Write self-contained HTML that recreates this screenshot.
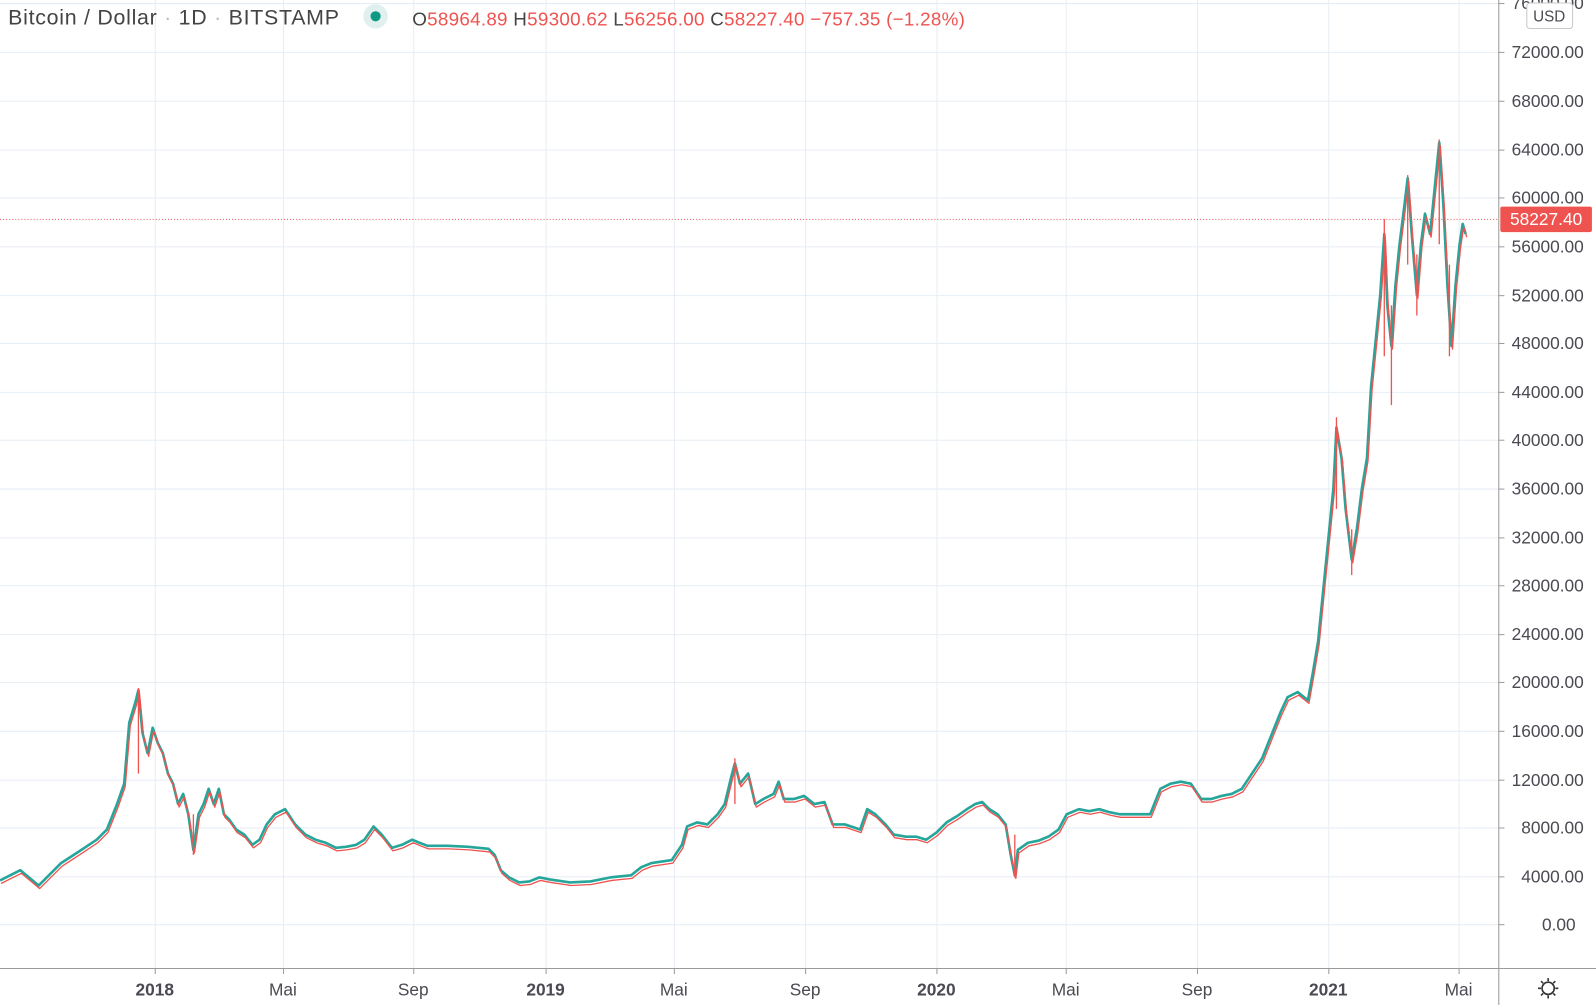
<!DOCTYPE html>
<html><head><meta charset="utf-8"><style>
body{margin:0;background:#fff;width:1596px;height:1005px;overflow:hidden;font-family:"Liberation Sans",sans-serif}
svg{display:block}
</style></head><body>
<svg width="1596" height="1005" viewBox="0 0 1568 987.4" preserveAspectRatio="none" xmlns="http://www.w3.org/2000/svg" font-family="Liberation Sans, sans-serif">
<rect width="1568" height="988" fill="#fff"/>
<g stroke="#e6eef4" stroke-width="1">
<line x1="0" y1="3.5" x2="1472" y2="3.5"/>
<line x1="0" y1="51.5" x2="1472" y2="51.5"/><line x1="0" y1="99.5" x2="1472" y2="99.5"/>
<line x1="0" y1="147.5" x2="1472" y2="147.5"/><line x1="0" y1="194.5" x2="1472" y2="194.5"/>
<line x1="0" y1="242.5" x2="1472" y2="242.5"/><line x1="0" y1="290.5" x2="1472" y2="290.5"/>
<line x1="0" y1="337.5" x2="1472" y2="337.5"/><line x1="0" y1="385.5" x2="1472" y2="385.5"/>
<line x1="0" y1="432.5" x2="1472" y2="432.5"/><line x1="0" y1="480.5" x2="1472" y2="480.5"/>
<line x1="0" y1="528.5" x2="1472" y2="528.5"/><line x1="0" y1="575.5" x2="1472" y2="575.5"/>
<line x1="0" y1="623.5" x2="1472" y2="623.5"/><line x1="0" y1="670.5" x2="1472" y2="670.5"/>
<line x1="0" y1="718.5" x2="1472" y2="718.5"/><line x1="0" y1="766.5" x2="1472" y2="766.5"/>
<line x1="0" y1="813.5" x2="1472" y2="813.5"/><line x1="0" y1="861.5" x2="1472" y2="861.5"/>
<line x1="0" y1="908.5" x2="1472" y2="908.5"/>
<line x1="152.5" y1="0" x2="152.5" y2="951"/><line x1="278.5" y1="0" x2="278.5" y2="951"/>
<line x1="406.5" y1="0" x2="406.5" y2="951"/><line x1="536.5" y1="0" x2="536.5" y2="951"/>
<line x1="662.5" y1="0" x2="662.5" y2="951"/><line x1="791.5" y1="0" x2="791.5" y2="951"/>
<line x1="920.5" y1="0" x2="920.5" y2="951"/><line x1="1047.5" y1="0" x2="1047.5" y2="951"/>
<line x1="1176.5" y1="0" x2="1176.5" y2="951"/><line x1="1305.5" y1="0" x2="1305.5" y2="951"/>
<line x1="1433.5" y1="0" x2="1433.5" y2="951"/>
</g>
<line x1="0" y1="215.5" x2="1472" y2="215.5" stroke="#ef5350" stroke-dasharray="1,2"/>
<g fill="none" stroke-linejoin="round">
<polyline stroke="#26a69a" stroke-width="2.6" points="0,865 20,855 38,870 60,848 80,835 95,825 105,815 115,790 122,770 127,710 133,690 136,678 140,720 145,740 150,715 155,730 160,740 165,760 170,770 175,790 180,780 185,800 190,835 195,800 200,790 205,775 210,790 215,775 220,800 225,805 232,815 240,820 248,830 255,825 262,810 270,800 280,795 290,810 300,820 310,825 320,828 330,833 340,832 350,830 358,825 367,812 375,820 385,833 395,830 405,825 412,828 420,831 440,831 460,832 480,834 486,840 492,855 500,862 510,867 520,866 530,862 540,864 560,867 580,866 600,862 620,860 630,852 640,848 660,845 670,830 675,812 685,808 695,810 705,800 712,790 718,765 722,750 727,770 735,760 742,790 750,785 760,780 765,768 770,785 780,785 790,782 800,790 810,788 818,810 830,810 845,815 852,795 860,800 870,810 878,820 890,822 900,822 910,825 920,818 930,808 940,802 950,795 958,790 965,788 972,795 980,800 988,810 993,840 997,860 1000,835 1010,828 1020,826 1030,822 1040,815 1048,800 1060,795 1070,797 1080,795 1090,798 1100,800 1110,800 1120,800 1130,800 1140,775 1150,770 1160,768 1170,770 1180,785 1190,785 1200,782 1210,780 1220,775 1230,760 1240,745 1250,720 1258,700 1265,685 1275,680 1285,688 1290,660 1295,630 1300,580 1305,530 1310,480 1313,420 1318,450 1322,500 1328,550 1333,520 1338,480 1343,450 1347,380 1352,330 1356,290 1360,230 1363,300 1367,340 1371,280 1375,240 1380,200 1383,175 1387,230 1392,290 1396,240 1400,210 1405,230 1410,180 1414,140 1418,200 1422,280 1426,340 1430,280 1434,240 1437,220 1440,230"/>
<polyline stroke="#ef5350" stroke-width="1.3" transform="translate(1,3)" points="0,865 20,855 38,870 60,848 80,835 95,825 105,815 115,790 122,770 127,710 133,690 136,678 140,720 145,740 150,715 155,730 160,740 165,760 170,770 175,790 180,780 185,800 190,835 195,800 200,790 205,775 210,790 215,775 220,800 225,805 232,815 240,820 248,830 255,825 262,810 270,800 280,795 290,810 300,820 310,825 320,828 330,833 340,832 350,830 358,825 367,812 375,820 385,833 395,830 405,825 412,828 420,831 440,831 460,832 480,834 486,840 492,855 500,862 510,867 520,866 530,862 540,864 560,867 580,866 600,862 620,860 630,852 640,848 660,845 670,830 675,812 685,808 695,810 705,800 712,790 718,765 722,750 727,770 735,760 742,790 750,785 760,780 765,768 770,785 780,785 790,782 800,790 810,788 818,810 830,810 845,815 852,795 860,800 870,810 878,820 890,822 900,822 910,825 920,818 930,808 940,802 950,795 958,790 965,788 972,795 980,800 988,810 993,840 997,860 1000,835 1010,828 1020,826 1030,822 1040,815 1048,800 1060,795 1070,797 1080,795 1090,798 1100,800 1110,800 1120,800 1130,800 1140,775 1150,770 1160,768 1170,770 1180,785 1190,785 1200,782 1210,780 1220,775 1230,760 1240,745 1250,720 1258,700 1265,685 1275,680 1285,688 1290,660 1295,630 1300,580 1305,530 1310,480 1313,420 1318,450 1322,500 1328,550 1333,520 1338,480 1343,450 1347,380 1352,330 1356,290 1360,230 1363,300 1367,340 1371,280 1375,240 1380,200 1383,175 1387,230 1392,290 1396,240 1400,210 1405,230 1410,180 1414,140 1418,200 1422,280 1426,340 1430,280 1434,240 1437,220 1440,230"/>
</g>
<g stroke="#ef5350" stroke-width="1.3">
<line x1="136" y1="676" x2="136" y2="760"/><line x1="190" y1="800" x2="190" y2="840"/>
<line x1="1313" y1="410" x2="1313" y2="500"/><line x1="1328" y1="520" x2="1328" y2="565"/>
<line x1="1360" y1="215" x2="1360" y2="350"/><line x1="1367" y1="300" x2="1367" y2="398"/>
<line x1="1383" y1="172" x2="1383" y2="260"/><line x1="1392" y1="250" x2="1392" y2="310"/>
<line x1="1414" y1="137" x2="1414" y2="240"/><line x1="1424" y1="260" x2="1424" y2="350"/>
<line x1="997" y1="820" x2="997" y2="862"/><line x1="722" y1="745" x2="722" y2="790"/>
</g>
<rect x="1472" y="0" width="124" height="1005" fill="#fff"/>
<rect x="0" y="952" width="1472" height="53" fill="#fff"/>
<line x1="1472.5" y1="0" x2="1472.5" y2="1005" stroke="#9a9a9a"/>
<line x1="0" y1="951.5" x2="1596" y2="951.5" stroke="#9a9a9a"/>
<g stroke="#9a9a9a">
<line x1="1472" y1="3.5" x2="1478" y2="3.5"/><line x1="1472" y1="51.5" x2="1478" y2="51.5"/><line x1="1472" y1="99.5" x2="1478" y2="99.5"/><line x1="1472" y1="147.5" x2="1478" y2="147.5"/><line x1="1472" y1="194.5" x2="1478" y2="194.5"/><line x1="1472" y1="242.5" x2="1478" y2="242.5"/><line x1="1472" y1="290.5" x2="1478" y2="290.5"/><line x1="1472" y1="337.5" x2="1478" y2="337.5"/><line x1="1472" y1="385.5" x2="1478" y2="385.5"/><line x1="1472" y1="432.5" x2="1478" y2="432.5"/><line x1="1472" y1="480.5" x2="1478" y2="480.5"/><line x1="1472" y1="528.5" x2="1478" y2="528.5"/><line x1="1472" y1="575.5" x2="1478" y2="575.5"/><line x1="1472" y1="623.5" x2="1478" y2="623.5"/><line x1="1472" y1="670.5" x2="1478" y2="670.5"/><line x1="1472" y1="718.5" x2="1478" y2="718.5"/><line x1="1472" y1="766.5" x2="1478" y2="766.5"/><line x1="1472" y1="813.5" x2="1478" y2="813.5"/><line x1="1472" y1="861.5" x2="1478" y2="861.5"/><line x1="1472" y1="908.5" x2="1478" y2="908.5"/>
<line x1="152.5" y1="951" x2="152.5" y2="957"/><line x1="278.5" y1="951" x2="278.5" y2="957"/><line x1="406.5" y1="951" x2="406.5" y2="957"/><line x1="536.5" y1="951" x2="536.5" y2="957"/><line x1="662.5" y1="951" x2="662.5" y2="957"/><line x1="791.5" y1="951" x2="791.5" y2="957"/><line x1="920.5" y1="951" x2="920.5" y2="957"/><line x1="1047.5" y1="951" x2="1047.5" y2="957"/><line x1="1176.5" y1="951" x2="1176.5" y2="957"/><line x1="1305.5" y1="951" x2="1305.5" y2="957"/><line x1="1433.5" y1="951" x2="1433.5" y2="957"/>
</g>
<g font-size="17" fill="#4a4a52" text-anchor="end">
<text x="1556" y="9">76000.00</text>
<text x="1556" y="57">72000.00</text><text x="1556" y="105">68000.00</text><text x="1556" y="153">64000.00</text><text x="1556" y="200">60000.00</text><text x="1556" y="248">56000.00</text><text x="1556" y="296">52000.00</text><text x="1556" y="343">48000.00</text><text x="1556" y="391">44000.00</text><text x="1556" y="438">40000.00</text><text x="1556" y="486">36000.00</text><text x="1556" y="534">32000.00</text><text x="1556" y="581">28000.00</text><text x="1556" y="629">24000.00</text><text x="1556" y="676">20000.00</text><text x="1556" y="724">16000.00</text><text x="1556" y="772">12000.00</text><text x="1556" y="819">8000.00</text><text x="1556" y="867">4000.00</text><text x="1548" y="914">0.00</text>
</g>
<rect x="1500" y="3" width="45" height="25" rx="3" fill="#fff" stroke="#c8c8c8"/>
<text x="1522" y="21" font-size="15" fill="#4a4a52" text-anchor="middle">USD</text>
<rect x="1474" y="203" width="90" height="25" rx="2" fill="#ef5350"/>
<text x="1519" y="221" font-size="17" fill="#fff" text-anchor="middle">58227.40</text>
<g font-size="17" fill="#4a4a52" text-anchor="middle">
<text x="152" y="978" font-weight="bold">2018</text><text x="278" y="978">Mai</text><text x="406" y="978">Sep</text>
<text x="536" y="978" font-weight="bold">2019</text><text x="662" y="978">Mai</text><text x="791" y="978">Sep</text>
<text x="920" y="978" font-weight="bold">2020</text><text x="1047" y="978">Mai</text><text x="1176" y="978">Sep</text>
<text x="1305" y="978" font-weight="bold">2021</text><text x="1433" y="978">Mai</text>
</g>
<g stroke="#333" stroke-width="1.6" fill="none">
<circle cx="1521" cy="971" r="6"/>
<path d="M1521 961v3M1521 978v3M1511 971h3M1528 971h3M1514 964l2 2M1526 976l2 2M1514 978l2-2M1526 966l2-2"/>
</g>
<text x="8" y="24" font-size="21" fill="#444" textLength="325" lengthAdjust="spacing">Bitcoin / Dollar <tspan fill="#bbb">·</tspan> 1D <tspan fill="#bbb">·</tspan> BITSTAMP</text>
<circle cx="369" cy="16" r="12" fill="#dff0ee"/>
<circle cx="369" cy="16" r="5" fill="#0f9984"/>
<text x="405" y="25" font-size="18.5" fill="#ef5350" textLength="543" lengthAdjust="spacing"><tspan fill="#444">O</tspan>58964.89 <tspan fill="#444">H</tspan>59300.62 <tspan fill="#444">L</tspan>56256.00 <tspan fill="#444">C</tspan>58227.40 −757.35 (−1.28%)</text>
</svg>
</body></html>
